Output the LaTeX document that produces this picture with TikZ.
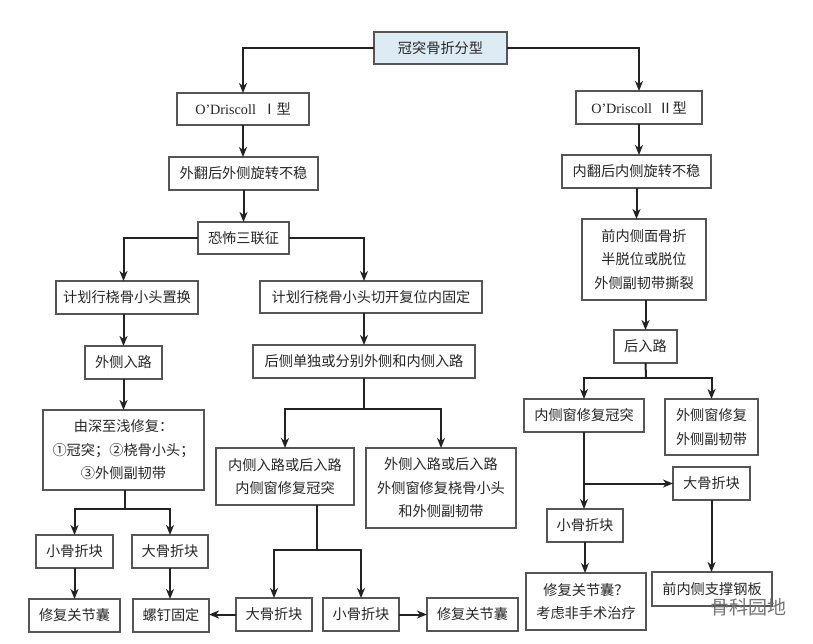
\documentclass[tikz,border=0pt]{standalone}
\usepackage{fontspec}
\setmainfont{Liberation Serif}
\newfontfamily\cjk{Noto Sans CJK SC}
\usetikzlibrary{arrows.meta,calc}
\definecolor{topfill}{HTML}{DDEBF5}
\definecolor{linec}{HTML}{222222}
\definecolor{boxc}{HTML}{555555}
\tikzset{
  box/.style={draw=boxc, line width=1.1pt, fill=white, inner sep=0pt, outer sep=0pt,
    align=center, font=\cjk\fontsize{14.2}{23.5}\selectfont, text=black!85},
  conn/.style={draw=linec, line width=2pt},
  arr/.style={conn, -{Stealth[length=10pt,width=8pt,inset=3pt]}},
}
\begin{document}
\begin{tikzpicture}[x=1pt,y=-1pt]
\useasboundingbox (0,0) rectangle (813,643);
% nodes
\node[box, fill=topfill, minimum width=133, minimum height=32] (top) at (440.5,48) {冠突骨折分型};
\node[box, minimum width=132, minimum height=32] (d1) at (243,109) {{\rmfamily O’Driscoll}\ \ Ⅰ型};
\node[box, minimum width=126, minimum height=33] (d2) at (639,107.5) {{\rmfamily O’Driscoll}\ \ Ⅱ型};
\node[box, minimum width=149, minimum height=33] (v1) at (243.5,173.5) {外翻后外侧旋转不稳};
\node[box, minimum width=149, minimum height=33] (v2) at (636.5,171.5) {内翻后内侧旋转不稳};
\node[box, minimum width=91, minimum height=32] (t) at (243.5,238) {恐怖三联征};
\node[box, minimum width=142, minimum height=33] (rep) at (127,297.5) {计划行桡骨小头置换};
\node[box, minimum width=222, minimum height=32] (orif) at (371,297) {计划行桡骨小头切开复位内固定};
\node[box, minimum width=77, minimum height=33] (lat) at (123.5,362.5) {外侧入路};
\node[box, minimum width=222, minimum height=33] (post) at (364,361.5) {后侧单独或分别外侧和内侧入路};
\node[box, minimum width=161, minimum height=80] (deep) at (123.5,450) {由深至浅修复：\\①冠突；②桡骨小头；\\③外侧副韧带};
\node[box, minimum width=138, minimum height=57] (medwin) at (285,476.5) {内侧入路或后入路\\内侧窗修复冠突};
\node[box, minimum width=150, minimum height=80] (latwin) at (441,488) {外侧入路或后入路\\外侧窗修复桡骨小头\\和外侧副韧带};
\node[box, minimum width=77, minimum height=33] (sL) at (74.5,551.5) {小骨折块};
\node[box, minimum width=76, minimum height=33] (bL) at (170,551.5) {大骨折块};
\node[box, minimum width=91, minimum height=33] (capL) at (74.5,615.5) {修复关节囊};
\node[box, minimum width=76, minimum height=33] (screw) at (171,615.5) {螺钉固定};
\node[box, minimum width=76, minimum height=33] (bM) at (274,614.5) {大骨折块};
\node[box, minimum width=76, minimum height=33] (sM) at (361,614.5) {小骨折块};
\node[box, minimum width=91, minimum height=33] (capM) at (472.5,614.5) {修复关节囊};
\node[box, minimum width=124, minimum height=81] (am) at (644,259.5) {前内侧面骨折\\半脱位或脱位\\外侧副韧带撕裂};
\node[box, minimum width=63, minimum height=33] (pa) at (645.5,346.5) {后入路};
\node[box, minimum width=120, minimum height=33] (mw) at (584,415.5) {内侧窗修复冠突};
\node[box, minimum width=93, minimum height=56] (lw) at (711.5,427) {外侧窗修复\\外侧副韧带};
\node[box, minimum width=77, minimum height=33] (bR) at (711.5,483.5) {大骨折块};
\node[box, minimum width=76, minimum height=33] (sR) at (585,525.5) {小骨折块};
\node[box, minimum width=120, minimum height=57] (capR) at (586,601.5) {修复关节囊？\\考虑非手术治疗};
\node[box, minimum width=120, minimum height=34] (plate) at (712,589) {前内侧支撑钢板};
\node[font=\cjk\fontsize{19}{19}\selectfont, text=black!55] (wm) at (748,607) {骨科园地};
% junctions
\coordinate (j1) at (364,409);
\coordinate (j2) at (125,509);
\coordinate (j3) at (317,550);
\coordinate (j4) at (646,378);
% connectors
\draw[arr] (top.west) -| (d1.north);
\draw[arr] (top.east) -| (d2.north);
\draw[arr] (d1.south) -- (v1.north -| d1.south);
\draw[arr] (d2.south) -- (d2.south |- v2.north);
\draw[arr] (v1.south -| t.north) -- (t.north);
\draw[arr] (t.west) -| (lat.north |- rep.north);
\draw[arr] (lat.north |- rep.south) -- (lat.north);
\draw[arr] (lat.south) -- (lat.south |- deep.north);
\draw[arr] (t.east) -| (post.north |- orif.north);
\draw[arr] (post.north |- orif.south) -- (post.north);
\draw[conn] (post.south) -- (j1);
\draw[arr] (j1) -| (medwin.north);
\draw[arr] (j1) -| (latwin.north);
\draw[conn] (j2 |- deep.south) -- (j2);
\draw[arr] (j2) -| (sL.north);
\draw[arr] (j2) -| (bL.north);
\draw[arr] (sL.south) -- (capL.north);
\draw[arr] (bL.south) -- (bL.south |- screw.north);
\draw[conn] (j3 |- medwin.south) -- (j3);
\draw[arr] (j3) -| (bM.north);
\draw[arr] (j3) -| (sM.north);
\draw[arr] (bM.west) -- (bM.west -| screw.east);
\draw[arr] (sM.east) -- (sM.east -| capM.west);
\draw[arr] (v2.south) -- (v2.south |- am.north);
\draw[arr] (pa.north |- am.south) -- (pa.north);
\draw[conn] (pa.south) -- (j4);
\draw[arr] (j4) -| (mw.north);
\draw[arr] (j4) -| (lw.north);
\draw[arr] (mw.south) -- (mw.south |- sR.north);
\draw[arr] (mw.south |- bR.west) -- (bR.west);
\draw[arr] (sR.south) -- (sR.south |- capR.north);
\draw[arr] (bR.south) -- (bR.south |- plate.north);
\end{tikzpicture}
\end{document}
